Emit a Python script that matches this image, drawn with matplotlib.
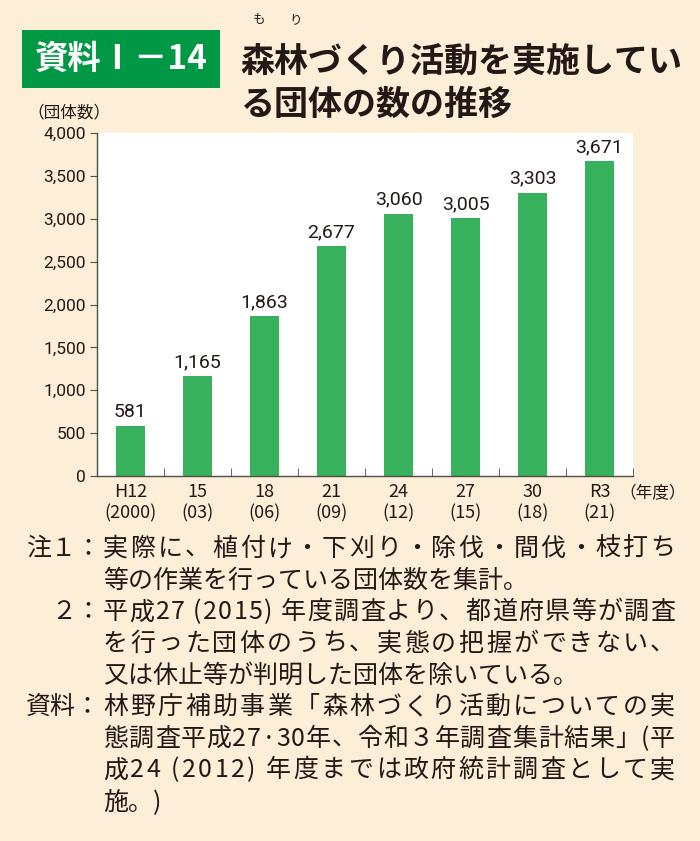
import matplotlib
matplotlib.use("Agg")
import matplotlib.pyplot as plt
from matplotlib.patches import Rectangle
import numpy as np

plt.rcParams['font.family'] = ['Noto Sans CJK JP', 'DejaVu Sans']

categories = ["H12\n(2000)", "15\n(03)", "18\n(06)", "21\n(09)", "24\n(12)", "27\n(15)", "30\n(18)", "R3\n(21)"]
values = [581, 1165, 1863, 2677, 3060, 3005, 3303, 3671]
yticks = [0, 500, 1000, 1500, 2000, 2500, 3000, 3500, 4000]

# (label, text, justified)
notes = [
    ("注１：", "実際に、植付け・下刈り・除伐・間伐・枝打ち", True),
    ("", "等の作業を行っている団体数を集計。", False),
    ("２：", "平成27 (2015) 年度調査より、都道府県等が調査", True),
    ("", "を行った団体のうち、実態の把握ができない、", True),
    ("", "又は休止等が判明した団体を除いている。", False),
    ("資料：", "林野庁補助事業「森林づくり活動についての実", True),
    ("", "態調査平成27·30年、令和３年調査集計結果」(平", True),
    ("", "成24 (2012) 年度までは政府統計調査として実", True),
    ("", "施。)", False),
]

BG = "#FDEFD7"
BAR = "#38B15C"
DARK = "#231815"

W, H = 700, 841
fig = plt.figure(figsize=(W/100, H/100), dpi=100, facecolor=BG)
renderer = fig.canvas.get_renderer()

def fx(x): return x / W
def fy(y): return 1 - y / H

# axes
left, right, top, bottom = 97, 633, 133, 476
ax = fig.add_axes([fx(left), fy(bottom), fx(right - left), (bottom - top) / H])
ax.set_facecolor("white")
x = np.arange(len(values))
ax.bar(x, values, width=0.42, color=BAR, zorder=2)
ax.set_xlim(-0.5, len(values) - 0.5)
ax.set_ylim(0, 4000)
for s in ["top", "right"]:
    ax.spines[s].set_visible(False)
for s in ["left", "bottom"]:
    ax.spines[s].set_color("#4d4d4d")
    ax.spines[s].set_linewidth(1.0)
ax.set_yticks(yticks)
ax.set_yticklabels([f"{v:,}" for v in yticks], fontsize=12.5, color=DARK, family='Roboto')
ax.tick_params(axis='y', direction='out', length=5, color="#4d4d4d", pad=3)
ax.set_xticks(x)
ax.set_xticklabels(categories, fontsize=13, color=DARK, linespacing=1.2)
ax.tick_params(axis='x', length=0, pad=5)
ax.set_xticks(np.arange(-0.5, len(values)), minor=True)
ax.tick_params(axis='x', which='minor', direction='in', length=6, color="#4d4d4d")
for xi, v in zip(x, values):
    ax.text(xi, v + 60, f"{v:,}", ha='center', va='bottom', fontsize=14, color=DARK, family='Roboto')

fig.text(fx(619), fy(494), "（年度）", fontsize=12, color=DARK, va='center', ha='left')
fig.text(fx(27), fy(113), "（団体数）", fontsize=12, color=DARK, va='center', ha='left')

# title box
fig.patches.append(Rectangle((fx(22), fy(88)), fx(198), (88 - 30) / H, transform=fig.transFigure,
                             facecolor="#009844", edgecolor="none"))
fig.text(fx(121), fy(59), "資料Ⅰ－14", fontsize=24, color="white", ha='center', va='center', fontweight='bold')
fig.text(fx(240), fy(61), "森林づくり活動を実施してい", fontsize=24.5, color=DARK, ha='left', va='center', fontweight='bold')
fig.text(fx(240), fy(104), "る団体の数の推移", fontsize=24.5, color=DARK, ha='left', va='center', fontweight='bold')
fig.text(fx(259), fy(20), "も", fontsize=9, color=DARK, ha='center', va='center')
fig.text(fx(296), fy(20), "り", fontsize=9, color=DARK, ha='center', va='center')

FS = 18

def char_width(ch):
    if ch == " ":
        t = fig.text(0, 0, "a a", fontsize=FS)
        w1 = t.get_window_extent(renderer).width
        t.remove()
        t = fig.text(0, 0, "aa", fontsize=FS)
        w2 = t.get_window_extent(renderer).width
        t.remove()
        return w1 - w2
    t = fig.text(0, 0, ch, fontsize=FS)
    w = t.get_window_extent(renderer).width
    t.remove()
    return w

def draw_justified(x0, x1, y, s):
    widths = [char_width(c) for c in s]
    gap = (x1 - x0 - sum(widths)) / (len(s) - 1)
    cx = x0
    for c, w in zip(s, widths):
        if c != " ":
            fig.text(fx(cx), fy(y), c, fontsize=FS, color=DARK, ha='left', va='center')
        cx += w + gap

# notes
y0 = 549
dy = 31.6
for i, (lab, txt, just) in enumerate(notes):
    yy = y0 + i * dy
    if lab:
        fig.text(fx(101), fy(yy), lab, fontsize=FS, color=DARK, ha='right', va='center')
    if just:
        draw_justified(103, 675, yy, txt)
    else:
        fig.text(fx(103), fy(yy), txt, fontsize=FS, color=DARK, ha='left', va='center')

fig.savefig("out.png", dpi=100, facecolor=BG)
